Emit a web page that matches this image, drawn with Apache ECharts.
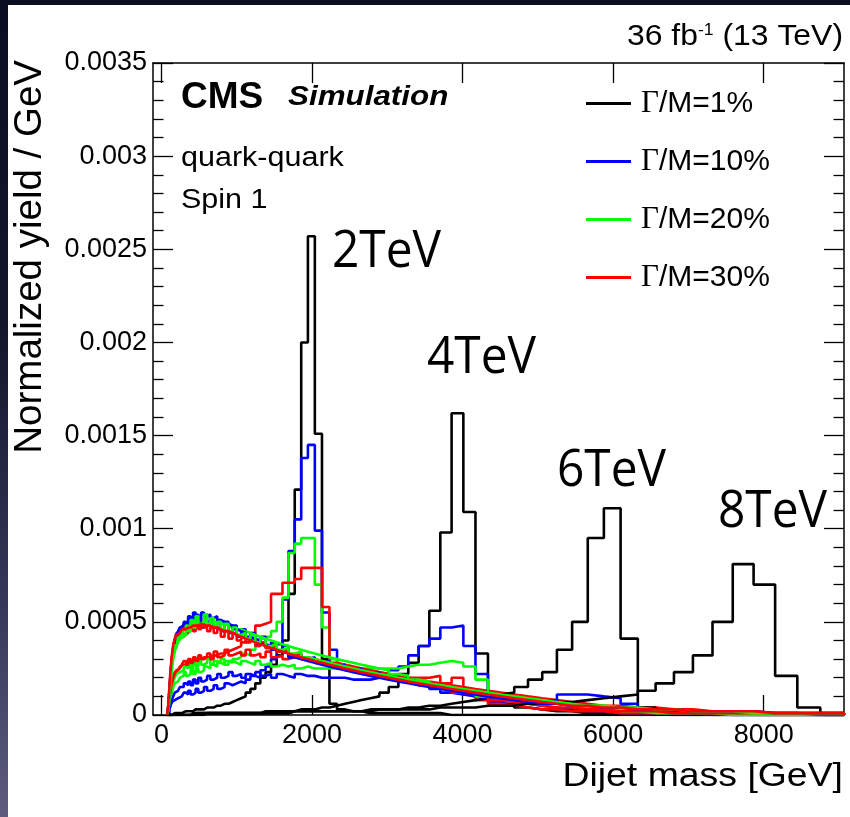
<!DOCTYPE html>
<html>
<head>
<meta charset="utf-8">
<script src="https://cdn.jsdelivr.net/npm/echarts@6/dist/echarts.min.js"></script>
<style>
  html, body { margin: 0; padding: 0; }
  body {
    width: 850px; height: 817px; position: relative; overflow: hidden;
    background: linear-gradient(180deg, #0b0d20 0%, #14162b 40%, #38385a 75%, #5d5c7c 100%);
  }
  #panel { position: absolute; left: 8px; top: 5px; right: 0; bottom: 0; background: #ffffff; }
  #chart { position: absolute; left: 0; top: 0; width: 850px; height: 817px; }
</style>
</head>
<body>
<div id="panel"></div>
<div id="chart"></div>
<script>
// Dijet mass bin edges [GeV] (variable-width binning)
const binEdges = [74, 88, 103, 119, 137, 156, 176, 197, 220, 244, 270, 296, 325, 354, 386, 419, 453, 489,
  526, 565, 606, 649, 693, 740, 788, 838, 890, 944, 1000, 1058, 1118, 1181, 1246, 1313, 1383, 1455,
  1530, 1607, 1687, 1770, 1856, 1945, 2037, 2132, 2231, 2332, 2438, 2546, 2659, 2775, 2895, 3019,
  3147, 3279, 3416, 3558, 3704, 3854, 4010, 4171, 4337, 4509, 4686, 4869, 5058, 5253, 5455, 5663,
  5877, 6099, 6328, 6564, 6808, 7060, 7320, 7589, 7866, 8152, 8447, 8752, 9067];

// Bin contents, in units of 1e-5 per GeV
const YIELD_UNIT = 1e-5;

// M = 2 TeV
const m2w01 = [0,0,0,0,1,1,1,1,1,1, 2,2,2,2,2,3,3,3,3,4, 4,4,5,5,6,6,7,8,9,10,
  12,14,17,20,23,27,32,40,65,121, 200,257,151,30,6,3,2,2,1,1, 1,1,1,1,1,1,0,0,0,0,
  0,0,0,0,0,0,0,0,0,0, 0,0,0,0,0,0,0,0,0,0];
const m2w10 = [0,1,3,5,7,8,9,9,10,10, 10,12,11,13,11,12,14,12,13,15, 13,14,16,14,15,17,16,17,18,17,
  19,21,20,24,26,30,38,62,88,105, 138,145,99,55,35,27,25,24,23,22, 21,20,19,18,17,16,15,14,13,12,
  11,10,9,8,7,6,5,4,3,3, 2,2,2,1,1,1,1,1,0,0];
const m2w20 = [0,2,5,9,12,15,17,18,19,20, 21,23,21,22,24,22,25,23,24,26, 25,27,26,28,27,29,28,30,31,33,
  32,35,37,39,42,45,50,63,87,92, 95,95,70,47,30,27,26,25,24,23, 22,21,20,19,18,16,15,14,13,12,
  11,10,9,8,7,6,5,4,4,3, 3,2,2,2,1,1,1,1,1,0];
const m2w30 = [0,3,8,14,18,21,23,24,25,26, 27,27,28,28,29,29,30,30,31,31, 31,32,32,33,33,34,35,36,37,39,
  41,44,48,49,50,65,65,71,71,73, 79,79,79,58,26,25,24,24,23,23, 22,21,20,19,18,17,16,15,14,13,
  12,11,10,9,8,7,6,5,5,4, 4,3,3,2,2,2,1,1,1,1];

// M = 4 TeV
const m4w01 = [0,0,0,0,0,0,0,0,0,0, 0,0,0,0,1,1,1,1,1,1, 1,1,1,1,1,1,1,1,1,1,
  1,1,1,2,2,2,2,2,2,3, 3,3,4,4,5,6,7,8,9,10, 12,15,22,28,37,56,98,162,109,33,
  11,6,4,3,2,2,1,1,1,1, 1,0,0,0,0,0,0,0,0,0];
const m4w10 = [0,1,3,5,8,10,12,13,14,15, 15,17,16,18,16,19,17,20,18,19, 21,19,20,22,20,21,23,21,22,20,
  22,21,23,21,22,20,22,21,20,22, 21,21,20,20,20,20,19,19,19,20, 22,24,26,32,37,41,47,48,37,22,
  7,8,6,5,4,3,2,2,1,1, 1,1,1,0,0,0,0,0,0,0];
const m4w20 = [0,2,6,11,15,18,20,22,23,24, 24,26,25,27,25,28,26,29,27,28, 30,27,29,28,30,27,29,28,27,29,
  28,27,29,27,28,26,27,26,27,25, 26,25,25,25,25,25,25,25,25,25, 25,25,26,27,27,28,29,28,26,19,
  11,9,8,7,6,5,4,3,3,2, 2,1,1,1,1,0,0,0,0,0];
const m4w30 = [0,3,8,13,17,20,22,24,25,26, 27,29,27,30,28,31,29,32,30,31, 33,30,34,31,32,35,32,33,34,32,
  35,32,33,31,34,31,32,30,31,30, 30,29,29,28,28,27,26,25,24,23, 22,21,20,20,20,21,17,20,12,8,
  6,5,4,3,3,2,2,2,1,1, 1,1,1,1,0,0,0,0,0,0];

// M = 6 TeV
const m6w01 = [0,0,0,0,0,0,0,0,0,0, 0,0,0,0,0,1,1,1,1,1, 1,1,1,1,1,1,1,1,1,1,
  1,1,1,1,1,1,1,1,2,2, 2,2,2,2,2,2,2,2,2,3, 3,3,4,4,5,5,6,7,8,9,
  11,12,15,19,23,35,50,95,111,41, 4,2,1,1,0,0,0,0,0,0];
const m6w10 = [0,3,10,20,28,34,38,44,40,47, 43,50,46,53,47,55,49,52,47,54, 50,52,47,51,45,50,44,48,42,46,
  41,44,38,42,36,39,34,37,31,33, 30,31,28,29,26,27,24,25,22,23, 21,20,19,18,16,14,12,11,10,9,
  8,8,7,7,8,11,11,10,9,6, 2,1,1,1,0,0,0,0,0,0];
const m6w20 = [0,3,9,17,24,30,34,37,39,41, 42,43,44,45,46,47,47,48,48,49, 49,50,50,49,49,48,47,46,46,45,
  44,43,42,41,40,39,38,37,36,35, 34,33,32,31,30,29,28,27,26,25, 24,22,21,19,18,16,15,13,12,10,
  9,8,7,6,6,5,5,5,4,2, 1,1,1,1,0,0,0,0,0,0];
const m6w30 = [0,4,12,22,30,36,40,44,41,45, 43,47,44,46,49,45,48,46,49,47, 45,47,44,46,42,45,41,44,40,42,
  39,41,37,39,36,37,34,35,32,33, 31,30,29,28,27,26,25,24,23,22, 21,20,19,18,16,15,14,12,11,10,
  8,7,6,5,4,4,3,3,2,2, 2,1,1,1,1,1,1,1,0,0];

// M = 8 TeV
const m8w01 = [0,0,0,0,0,0,0,0,0,0, 0,0,0,0,0,0,0,0,0,1, 1,1,1,1,1,1,1,1,1,1,
  1,1,1,1,1,1,1,1,2,2, 2,2,2,2,2,2,2,2,3,3, 3,3,3,3,3,4,4,4,4,5,
  5,5,6,6,7,7,8,9,10,11, 13,17,23,32,50,81,70,21,4,1];
const m8w10 = [0,4,12,22,30,36,40,43,45,47, 48,49,50,52,51,53,54,52,55,53, 54,52,53,51,50,49,48,46,45,44,
  42,41,40,38,37,35,34,33,31,30, 29,28,27,26,25,24,23,22,21,20, 19,18,17,16,15,14,13,12,11,10,
  9,8,7,6,6,5,5,4,4,3, 3,3,2,2,2,2,1,1,1,1];
const m8w20 = [0,3,10,19,27,33,38,36,42,40, 46,43,48,45,51,47,53,49,50,54, 49,52,48,50,46,49,45,47,43,44,
  41,43,39,41,37,38,35,36,33,34, 31,30,29,28,27,26,25,24,23,22, 21,20,19,18,17,16,15,14,13,12,
  11,10,9,8,7,6,5,5,4,4, 3,3,2,2,2,1,1,1,1,1];
const m8w30 = [0,5,14,24,32,38,41,43,44,45, 46,46,47,47,48,48,48,49,48,48, 48,47,47,46,45,45,44,43,42,41,
  40,39,38,37,36,35,34,33,32,31, 30,29,28,27,26,25,24,23,22,21, 20,19,18,17,16,15,14,13,12,11,
  10,9,8,7,6,5,5,4,4,3, 3,3,2,2,2,2,1,1,1,1];

const widthNames = ['Γ/M=1%', 'Γ/M=10%', 'Γ/M=20%', 'Γ/M=30%'];
const widthColors = ['#000000', '#0000ff', '#00ff00', '#ff0000'];
const massGroups = [
  [m2w01, m2w10, m2w20, m2w30],
  [m4w01, m4w10, m4w20, m4w30],
  [m6w01, m6w10, m6w20, m6w30],
  [m8w01, m8w10, m8w20, m8w30]
];
const xTicks = [0, 2000, 4000, 6000, 8000];
const massLabels = ['2TeV', '4TeV', '6TeV', '8TeV'];

// Histogram outline: one point per bin low edge, closed down to zero at both ends
function histPoints(vals) {
  const pts = [[binEdges[0], 0]];
  vals.forEach((v, i) => pts.push([binEdges[i], v * YIELD_UNIT]));
  const last = vals.length;
  pts.push([binEdges[last], vals[last - 1] * YIELD_UNIT]);
  pts.push([binEdges[last], 0]);
  return pts;
}

const series = [];
massGroups.forEach(group => {
  group.forEach((vals, w) => {
    series.push({
      type: 'line',
      name: widthNames[w],
      step: 'end',
      data: histPoints(vals),
      symbol: 'none',
      silent: true,
      animation: false,
      lineStyle: { color: widthColors[w], width: 2.6 },
      itemStyle: { color: widthColors[w] },
      z: 2
    });
  });
});

const FONT = '"Liberation Sans", Arial, Helvetica, sans-serif';
const axisLineStyle = { color: '#000', width: 1.5 };
const tickLineStyle = { color: '#000', width: 1.3 };

function txt(x, y, text, o) {
  return Object.assign({
    type: 'text', x: x, y: y, silent: true, z: 10,
    style: Object.assign({ text: text, fill: '#000', fontFamily: FONT, align: 'left', verticalAlign: 'middle' }, o.style)
  }, o.el || {});
}

const graphics = [
  txt(30, 60, 'Normalized yield / GeV', { el: { rotation: Math.PI / 2 }, style: { fontSize: 38.5, align: 'right' } }),
  txt(843, 777, 'Dijet mass [GeV]', { el: { scaleX: 1.1 }, style: { fontSize: 34, align: 'right' } }),
  txt(843, 37, '{a|36 fb}{s|-1}{a| (13 TeV)}', { el: { scaleX: 1.1 }, style: {
    fontSize: 29, align: 'right',
    rich: { a: { fontSize: 29, fontFamily: FONT }, s: { fontSize: 16, fontFamily: FONT, verticalAlign: 'top' } }
  } }),
  txt(181, 98, 'CMS', { style: { fontSize: 37, fontWeight: 'bold' } }),
  txt(288, 97, 'Simulation', { el: { scaleX: 1.12 }, style: { fontSize: 28, fontWeight: 'bold', fontStyle: 'italic' } }),
  txt(181, 158.5, 'quark-quark', { el: { scaleX: 1.13 }, style: { fontSize: 27 } }),
  txt(181, 200.5, 'Spin 1', { el: { scaleX: 1.13 }, style: { fontSize: 27 } })
];
const massLabelPos = [[332, 252], [427, 358], [557, 471], [718, 512]];
massLabels.forEach((t, i) => {
  graphics.push(txt(massLabelPos[i][0], massLabelPos[i][1], t, {
    el: { scaleX: 0.92 }, style: { fontSize: 52, fontFamily: '"Open Sans", sans-serif' }
  }));
});

const chart = echarts.init(document.getElementById('chart'), null, { renderer: 'canvas' });
chart.setOption({
  backgroundColor: 'transparent',
  animation: false,
  grid: { left: 153, right: 6, top: 63, bottom: 102, containLabel: false },
  legend: {
    data: widthNames,
    orient: 'vertical',
    left: 581, top: 83,
    itemWidth: 45, itemHeight: 3, itemGap: 27,
    icon: 'rect',
    selectedMode: false,
    formatter: name => '{g|Γ}' + name.slice(1),
    textStyle: {
      fontSize: 30, fontFamily: FONT, color: '#000', padding: [0, 0, 0, 5],
      rich: { g: { fontSize: 31, fontFamily: '"Liberation Serif", serif', color: '#000' } }
    }
  },
  xAxis: [
    {
      type: 'value', position: 'bottom', min: -113, max: 9067,
      axisLine: { show: true, onZero: false, lineStyle: axisLineStyle },
      axisTick: { show: true, inside: true, length: 20, customValues: xTicks, lineStyle: tickLineStyle },
      axisLabel: {
        show: true, customValues: xTicks, fontSize: 27, fontFamily: FONT, color: '#000', margin: 7,
        formatter: v => String(v)
      },
      splitLine: { show: false }
    },
    {
      type: 'value', position: 'top', min: -113, max: 9067,
      axisLine: { show: true, onZero: false, lineStyle: axisLineStyle },
      axisTick: { show: true, inside: true, length: 20, customValues: xTicks, lineStyle: tickLineStyle },
      axisLabel: { show: false },
      splitLine: { show: false }
    }
  ],
  yAxis: [
    {
      type: 'value', position: 'left', min: 0, max: 0.0035, interval: 0.0005,
      axisLine: { show: true, onZero: false, lineStyle: axisLineStyle },
      axisTick: { show: true, inside: true, length: 20, lineStyle: tickLineStyle },
      minorTick: { show: true, splitNumber: 5, length: 10.5, lineStyle: tickLineStyle },
      axisLabel: {
        show: true, fontSize: 27, fontFamily: FONT, color: '#000', margin: 6,
        formatter: v => (v === 0 ? '0' : String(+v.toFixed(4)))
      },
      splitLine: { show: false }, minorSplitLine: { show: false }
    },
    {
      type: 'value', position: 'right', min: 0, max: 0.0035, interval: 0.0005,
      axisLine: { show: true, onZero: false, lineStyle: axisLineStyle },
      axisTick: { show: true, inside: true, length: 20, lineStyle: tickLineStyle },
      minorTick: { show: true, splitNumber: 5, length: 10.5, lineStyle: tickLineStyle },
      axisLabel: { show: false },
      splitLine: { show: false }, minorSplitLine: { show: false }
    }
  ],
  series: series,
  graphic: graphics
});
</script>
</body>
</html>
